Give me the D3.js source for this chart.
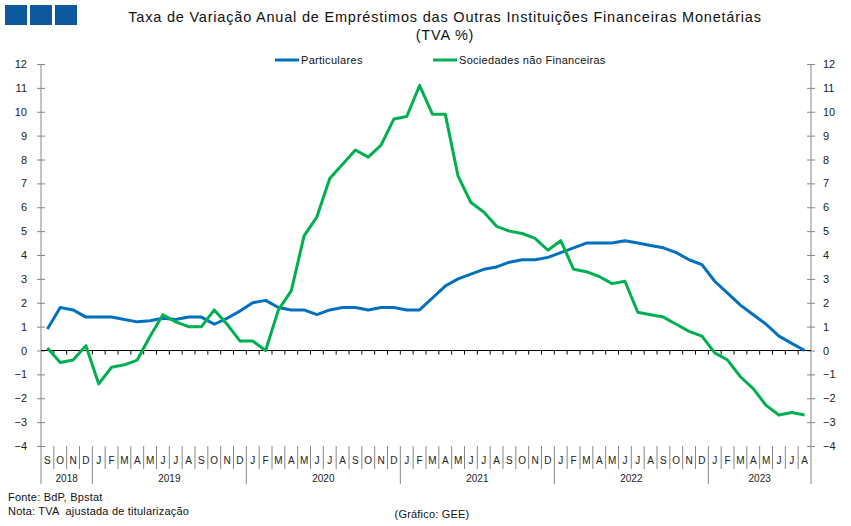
<!DOCTYPE html>
<html>
<head>
<meta charset="utf-8">
<script src="https://cdn.jsdelivr.net/npm/d3@7"></script>
<style>
  body { margin: 0; background: #fff; }
  svg { display: block; font-family: 'Liberation Sans', Arial, sans-serif; }
</style>
</head>
<body>
<script>
const W = 851
const H = 526

// months Sep 2018 .. Aug 2023
const years = [2018, 2019, 2020, 2021, 2022, 2023]
const monthLetters = ['J', 'F', 'M', 'A', 'M', 'J', 'J', 'A', 'S', 'O', 'N', 'D']
const months = []
for (let y = 2018; y <= 2023; y++) {
  for (let m = 0; m < 12; m++) {
    if (y === 2018 && m < 8) continue
    if (y === 2023 && m > 7) continue
    months.push({ key: `${y}-${m + 1}`, year: y, letter: monthLetters[m] })
  }
}

const particulares = [
  0.9, 1.8, 1.7, 1.4,
  1.4, 1.4, 1.3, 1.2, 1.25, 1.35, 1.3, 1.4, 1.4, 1.1, 1.35, 1.65,
  2.0, 2.1, 1.8, 1.7, 1.7, 1.5, 1.7, 1.8, 1.8, 1.7, 1.8, 1.8,
  1.7, 1.7, 2.2, 2.7, 3.0, 3.2, 3.4, 3.5, 3.7, 3.8, 3.8, 3.9,
  4.1, 4.3, 4.5, 4.5, 4.5, 4.6, 4.5, 4.4, 4.3, 4.1, 3.8, 3.6,
  2.9, 2.4, 1.9, 1.5, 1.1, 0.6, 0.3, 0.0
]
const sociedades = [
  0.1, -0.5, -0.4, 0.2,
  -1.4, -0.7, -0.6, -0.4, 0.6, 1.5, 1.2, 1.0, 1.0, 1.7, 1.1, 0.4,
  0.4, 0.0, 1.7, 2.5, 4.8, 5.6, 7.2, 7.8, 8.4, 8.1, 8.6, 9.7,
  9.8, 11.1, 9.9, 9.9, 7.3, 6.2, 5.8, 5.2, 5.0, 4.9, 4.7, 4.2,
  4.6, 3.4, 3.3, 3.1, 2.8, 2.9, 1.6, 1.5, 1.4, 1.1, 0.8, 0.6,
  -0.1, -0.4, -1.1, -1.6, -2.3, -2.7, -2.6, -2.7
]
const yTicks = d3.range(-4, 13)

const series = [
  { name: 'Particulares', values: particulares, color: '#0070c0' },
  { name: 'Sociedades não Financeiras', values: sociedades, color: '#00b050' }
]

const plot = { left: 41, right: 811, top: 64, bottom: 446 }

const svg = d3.select('body').append('svg')
  .attr('width', W)
  .attr('height', H)

const x = d3.scaleBand().domain(months.map(d => d.key)).range([plot.left, plot.right])
const y = d3.scaleLinear().domain([-4, 12]).range([plot.bottom, plot.top])

// logo
svg.append('g')
  .selectAll('rect')
  .data([0, 1, 2]).enter()
  .append('rect')
  .attr('x', d => 5 + d * 25)
  .attr('y', 5)
  .attr('width', 22)
  .attr('height', 20)
  .attr('fill', '#0f5a9e')

// titles
svg.append('text')
  .text('Taxa de Variação Anual de Empréstimos das Outras Instituições Financeiras Monetárias')
  .attr('x', 445)
  .attr('y', 22)
  .attr('text-anchor', 'middle')
  .attr('font-size', 14.5)
  .attr('letter-spacing', 0.8)
  .attr('fill', '#111')
svg.append('text')
  .text('(TVA %)')
  .attr('x', 445)
  .attr('y', 40)
  .attr('text-anchor', 'middle')
  .attr('font-size', 14.5)
  .attr('letter-spacing', 0.8)
  .attr('fill', '#111')

// y axes
const axisColor = '#868686'
const leftAxis = g => g
  .attr('transform', `translate(${plot.left},0)`)
  .call(d3.axisLeft(y).tickValues(yTicks).tickSize(4).tickPadding(10))
  .call(g => g.selectAll('.tick line').attr('x2', 4).attr('x1', -4).attr('stroke', axisColor))
  .call(g => g.select('.domain').remove())
const rightAxis = g => g
  .attr('transform', `translate(${plot.right},0)`)
  .call(d3.axisRight(y).tickValues(yTicks).tickSize(4).tickPadding(8))
  .call(g => g.selectAll('.tick line').attr('x2', 4).attr('x1', -4).attr('stroke', axisColor))
  .call(g => g.select('.domain').remove())

svg.append('g').call(leftAxis)
svg.append('g').call(rightAxis)
svg.selectAll('.tick text')
  .attr('font-size', 11)
  .attr('font-family', "'Liberation Sans', Arial, sans-serif")
  .attr('fill', '#222')

// vertical axis lines (extend through the label rows)
svg.append('line')
  .attr('x1', plot.left).attr('x2', plot.left)
  .attr('y1', plot.top).attr('y2', 484)
  .attr('stroke', axisColor)
svg.append('line')
  .attr('x1', plot.right).attr('x2', plot.right)
  .attr('y1', plot.top).attr('y2', 484)
  .attr('stroke', axisColor)

// zero line with category ticks
svg.append('line')
  .attr('x1', plot.left).attr('x2', plot.right)
  .attr('y1', y(0)).attr('y2', y(0))
  .attr('stroke', '#000')
svg.append('g')
  .selectAll('line')
  .data(months.slice(1)).enter()
  .append('line')
  .attr('x1', d => x(d.key)).attr('x2', d => x(d.key))
  .attr('y1', y(0)).attr('y2', y(0) + 4)
  .attr('stroke', '#000')

// month label row
const monthRow = svg.append('g')
monthRow.selectAll('line')
  .data(months.slice(1)).enter()
  .append('line')
  .attr('x1', d => x(d.key)).attr('x2', d => x(d.key))
  .attr('y1', plot.bottom)
  .attr('y2', d => d.letter === 'J' && d.key.endsWith('-1') ? 484 : 469)
  .attr('stroke', axisColor)
monthRow.selectAll('text')
  .data(months).enter()
  .append('text')
  .text(d => d.letter)
  .attr('x', d => x(d.key) + x.bandwidth() / 2)
  .attr('y', 464)
  .attr('text-anchor', 'middle')
  .attr('font-size', 10)
  .attr('fill', '#222')

// year labels
svg.append('g')
  .selectAll('text')
  .data(years).enter()
  .append('text')
  .text(d => d)
  .attr('x', yr => {
    const ms = months.filter(m => m.year === yr)
    return (x(ms[0].key) + x(ms[ms.length - 1].key) + x.bandwidth()) / 2
  })
  .attr('y', 482)
  .attr('text-anchor', 'middle')
  .attr('font-size', 10)
  .attr('fill', '#222')

// lines
const line = d3.line()
  .x((d, i) => x(months[i].key) + x.bandwidth() / 2)
  .y(d => y(d))

svg.append('g')
  .selectAll('path')
  .data(series).enter()
  .append('path')
  .attr('d', d => line(d.values))
  .attr('fill', 'none')
  .attr('stroke', d => d.color)
  .attr('stroke-width', 3)
  .attr('stroke-linejoin', 'round')

// legend
const legend = svg.append('g')
  .selectAll('g')
  .data(series).enter()
  .append('g')
  .attr('transform', (d, i) => `translate(${[275, 433][i]}, 60)`)
legend.append('line')
  .attr('x1', 0).attr('x2', 24)
  .attr('stroke', d => d.color)
  .attr('stroke-width', 3)
legend.append('text')
  .text(d => d.name)
  .attr('x', 26)
  .attr('y', 4)
  .attr('font-size', 11)
  .attr('letter-spacing', 0.3)
  .attr('fill', '#111')

// footer
const footer = [
  { t: 'Fonte: BdP, Bpstat', x: 8, y: 501, anchor: 'start' },
  { t: 'Nota: TVA  ajustada de titularização', x: 8, y: 515, anchor: 'start' },
  { t: '(Gráfico: GEE)', x: 432, y: 518, anchor: 'middle' }
]
svg.append('g')
  .selectAll('text')
  .data(footer).enter()
  .append('text')
  .text(d => d.t)
  .attr('x', d => d.x)
  .attr('y', d => d.y)
  .attr('text-anchor', d => d.anchor)
  .attr('xml:space', 'preserve')
  .style('white-space', 'pre')
  .attr('font-size', 11)
  .attr('letter-spacing', 0.2)
  .attr('fill', '#111')
</script>
</body>
</html>
